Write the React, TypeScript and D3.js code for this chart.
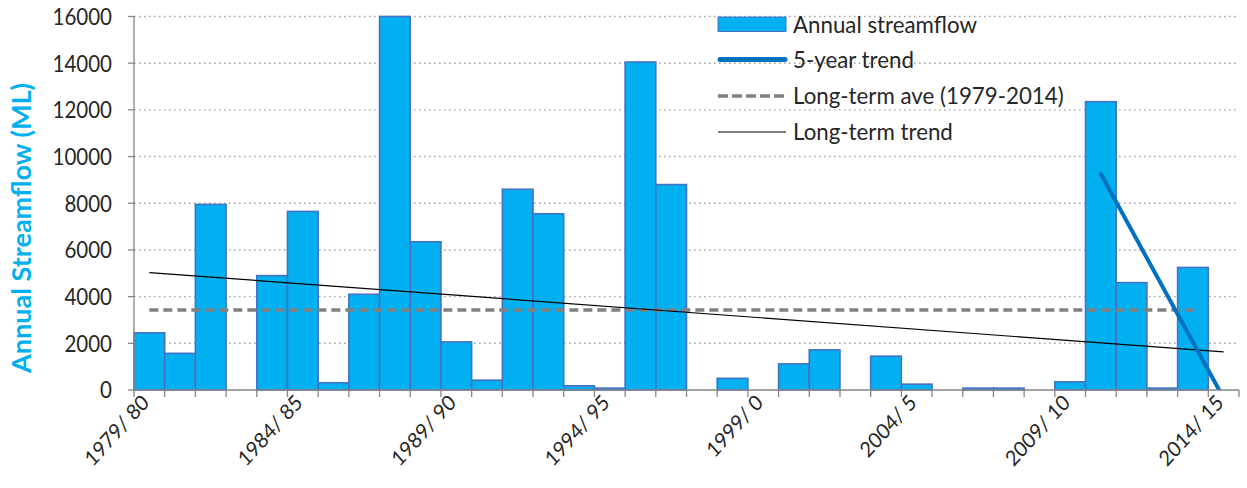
import React from "react";
import * as d3 from "d3";

const categories = [
  "1979/ 80", "1980/ 81", "1981/ 82", "1982/ 83", "1983/ 84", "1984/ 85",
  "1985/ 86", "1986/ 87", "1987/ 88", "1988/ 89", "1989/ 90", "1990/ 91",
  "1991/ 92", "1992/ 93", "1993/ 94", "1994/ 95", "1995/ 96", "1996/ 97",
  "1997/ 98", "1998/ 99", "1999/ 0", "2000/ 1", "2001/ 2", "2002/ 3",
  "2003/ 4", "2004/ 5", "2005/ 6", "2006/ 7", "2007/ 8", "2008/ 9",
  "2009/ 10", "2010/ 11", "2011/ 12", "2012/ 13", "2013/ 14", "2014/ 15",
];

const streamflow = [
  2450, 1570, 7950, 0, 4900, 7650,
  310, 4100, 16000, 6350, 2060, 420,
  8600, 7550, 180, 80, 14050, 8800,
  0, 500, 0, 1120, 1720, 0,
  1450, 250, 0, 80, 80, 0,
  350, 12350, 4600, 80, 5250, 0,
];

const tickLabels = ["1979/ 80", "1984/ 85", "1989/ 90", "1994/ 95", "1999/ 0", "2004/ 5", "2009/ 10", "2014/ 15"];
const yTicks = [0, 2000, 4000, 6000, 8000, 10000, 12000, 14000, 16000];

const fiveYearCats = ["2010/ 11", "2014/ 15"];
const fiveYearValues = [9250, -350];
const aveCats = ["1979/ 80", "2013/ 14"];
const aveValues = [3430, 3430];
const trendCats = ["1979/ 80", "2014/ 15"];
const trendValues = [5030, 1630];

const legendItems = ["Annual streamflow", "5-year trend", "Long-term ave (1979-2014)", "Long-term trend"];

const W = 1247;
const H = 488;
const left = 134;
const right = 1239;
const top = 16.5;
const bottom = 390;
const FONT = "Lato, 'Open Sans', sans-serif";

export default function App() {
  const x = d3.scaleBand<string>().domain(categories).range([left, right]).padding(0);
  const y = d3.scaleLinear().domain([0, 16000]).range([bottom, top]);
  const cx = (c: string) => (x(c) as number) + x.bandwidth() / 2;
  const line = d3.line<[string, number]>().x((d) => cx(d[0])).y((d) => y(d[1]));

  const five = line(fiveYearCats.map((c, i) => [c, fiveYearValues[i]] as [string, number]));
  const ave = line(aveCats.map((c, i) => [c, aveValues[i]] as [string, number]));
  const trend = line(trendCats.map((c, i) => [c, trendValues[i]] as [string, number]));

  const bounds = [...categories.map((c) => x(c) as number), right];
  const legendY = [24.5, 59.5, 96, 132];

  return (
    <svg width={W} height={H} style={{ position: "absolute", left: 0, top: 0, background: "#fff" }} fontFamily={FONT}>
      <defs>
        <clipPath id="plot">
          <rect x={left} y={top - 2} width={right - left} height={bottom - top + 2} />
        </clipPath>
      </defs>
      {/* gridlines */}
      {yTicks.filter((t) => t > 0).map((t) => (
        <line key={t} x1={left} x2={right} y1={y(t)} y2={y(t)} stroke="#A6A6A6" strokeWidth={1.4} strokeDasharray="1.6,3.4" />
      ))}
      {/* bars */}
      {streamflow.map((v, i) =>
        v > 0 ? (
          <rect key={i} x={x(categories[i])} y={y(v)} width={x.bandwidth()} height={bottom - y(v)}
            fill="#00B0F0" stroke="#4472C4" strokeWidth={1.6} />
        ) : null
      )}
      {/* lines */}
      <g clipPath="url(#plot)">
        <path d={ave ?? ""} fill="none" stroke="#808080" strokeWidth={3.5} strokeDasharray="9,5" />
        <path d={trend ?? ""} fill="none" stroke="#000" strokeWidth={1.2} />
        <path d={five ?? ""} fill="none" stroke="#0070C0" strokeWidth={4} strokeLinecap="round" />
      </g>
      {/* axes */}
      <line x1={left} x2={left} y1={top} y2={bottom} stroke="#868686" strokeWidth={1.3} />
      <line x1={left} x2={right} y1={bottom} y2={bottom} stroke="#868686" strokeWidth={1.3} />
      {yTicks.map((t) => (
        <g key={t}>
          <line x1={left - 6} x2={left} y1={y(t)} y2={y(t)} stroke="#868686" strokeWidth={1.3} />
          <text transform={`translate(112,${y(t)}) scale(1,1.13)`} dy="0.36em" textAnchor="end" fontSize={20.5} fill="#262626">
            {t}
          </text>
        </g>
      ))}
      {bounds.map((b, i) => (
        <line key={i} x1={b} x2={b} y1={bottom} y2={bottom + 7} stroke="#868686" strokeWidth={1.3} />
      ))}
      {tickLabels.map((c) => (
        <text key={c} transform={`translate(${cx(c) + 1},404) scale(1,1.1) rotate(-45)`} textAnchor="end" fontSize={19.5} fill="#262626">
          {c}
        </text>
      ))}
      {/* y title */}
      <text transform={`translate(31,228) scale(1,1.04) rotate(-90)`} textAnchor="middle" fontSize={26} fontWeight="bold" fill="#00B0F0">
        Annual Streamflow (ML)
      </text>
      {/* legend */}
      <rect x={718} y={17} width={68} height={14.5} fill="#00B0F0" stroke="#4472C4" strokeWidth={1} />
      <line x1={720} x2={785} y1={legendY[1]} y2={legendY[1]} stroke="#0070C0" strokeWidth={5} strokeLinecap="round" />
      <line x1={718} x2={786} y1={legendY[2]} y2={legendY[2]} stroke="#808080" strokeWidth={3.5} strokeDasharray="10,4" />
      <line x1={718} x2={786} y1={legendY[3]} y2={legendY[3]} stroke="#000" strokeWidth={1.2} />
      {legendItems.map((s, i) => (
        <text key={s} transform={`translate(793,${legendY[i]}) scale(1,1.04)`} dy="0.36em" fontSize={22.3} fill="#262626">
          {s}
        </text>
      ))}
    </svg>
  );
}
